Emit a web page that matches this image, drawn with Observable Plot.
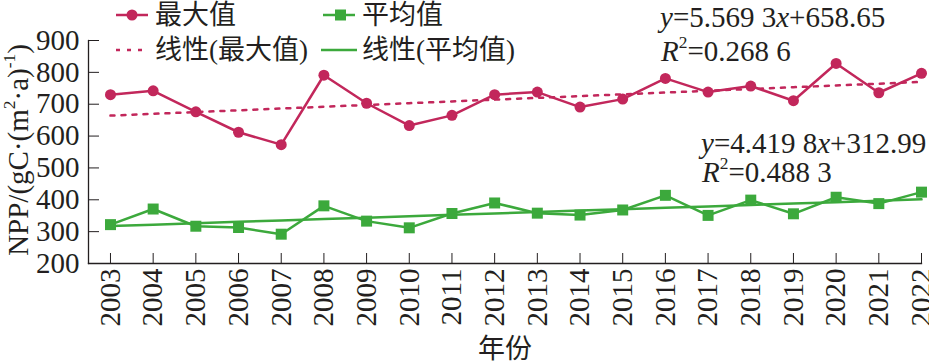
<!DOCTYPE html>
<html><head><meta charset="utf-8">
<script src="https://cdn.jsdelivr.net/npm/d3@7"></script>
<script src="https://cdn.jsdelivr.net/npm/@observablehq/plot@0.6"></script>
<style>
body{margin:0;background:#fff}
#wrap{position:relative;width:929px;height:364px;overflow:hidden;font-family:"Liberation Serif",serif;color:#231f20;background:#fff}
#wrap svg.chart{position:absolute;left:0;top:0}
.ov{position:absolute;white-space:nowrap;line-height:1;font-size:29px}
.cjk{font-family:"Liberation Serif","Noto Sans CJK SC",serif;font-size:27px}
sup{font-size:60%;vertical-align:0.7em;line-height:0}
</style></head><body><div id="wrap"></div>
<script>
// ---- data ----
const years = [2003,2004,2005,2006,2007,2008,2009,2010,2011,2012,2013,2014,2015,2016,2017,2018,2019,2020,2021,2022];
const maxValues  = [730,742,676,612,573,791,703,633,665,730,738,691,716,781,738,757,711,828,736,797];
const meanValues = [322,371,317,313,292,381,333,312,357,390,358,352,368,414,351,399,356,408,388,424];
const yTicks = [200,300,400,500,600,700,800,900];
const seriesNames = ["最大值","平均值","线性(最大值)","线性(平均值)"];
const maxFitCoef  = [5.5693, 658.65];   // y = a*x + b, x = 1..20
const meanFitCoef = [4.4198, 312.99];
const maxFitText  = ["5.569 3", "658.65", "0.268 6"];
const meanFitText = ["4.419 8", "312.99", "0.488 3"];

const red = "#c2275b", green = "#3ca93c", ink = "#231f20";

const maxData  = years.map((y,i)=>({year:y, v:maxValues[i]}));
const meanData = years.map((y,i)=>({year:y, v:meanValues[i]}));
const maxFit  = years.map((y,i)=>({year:y, v:maxFitCoef[0]*(i+1)+maxFitCoef[1]}));
const meanFit = years.map((y,i)=>({year:y, v:meanFitCoef[0]*(i+1)+meanFitCoef[1]}));

const chart = Plot.plot({
  width:929, height:364,
  marginLeft:88, marginRight:8, marginTop:40, marginBottom:101,
  style:{fontFamily:'"Liberation Serif", serif', fontSize:"29px", color:ink, background:"transparent", overflow:"visible"},
  x:{type:"linear", domain:[2002.485, 2022]},
  y:{domain:[200, 900]},
  marks:[
    Plot.frame({anchor:"left", stroke:ink, strokeWidth:1.3}),
    Plot.frame({anchor:"bottom", stroke:ink, strokeWidth:1.3}),
    Plot.axisY({ticks:yTicks, tickSize:0, tickPadding:9, label:null, fontSize:29}),
    Plot.axisY({ticks:yTicks, tickSize:-11, text:null, label:null, stroke:ink}),
    Plot.axisX({ticks:years, tickSize:0, tickPadding:5, tickRotate:-90, tickFormat:d=>String(d), label:null, fontSize:29}),
    Plot.axisX({ticks:years, tickSize:-10, text:null, label:null, stroke:ink}),
    Plot.line(maxFit, {x:"year", y:"v", stroke:red, strokeWidth:2.5, strokeDasharray:"4,7"}),
    Plot.line(meanFit, {x:"year", y:"v", stroke:green, strokeWidth:2.5}),
    Plot.line(maxData, {x:"year", y:"v", stroke:red, strokeWidth:2.5}),
    Plot.dot(maxData, {x:"year", y:"v", fill:red, r:5.5, symbol:"circle"}),
    Plot.line(meanData, {x:"year", y:"v", stroke:green, strokeWidth:2.5}),
    Plot.dot(meanData, {x:"year", y:"v", fill:green, r:6.2, symbol:"square"})
  ]
});
chart.classList.add("chart");
const wrap = document.getElementById("wrap");
wrap.appendChild(chart);

function ov(html, left, cy, cls){
  const d = document.createElement("div");
  d.className = "ov " + (cls||"");
  d.innerHTML = html;
  d.style.left = left + "px";
  d.style.top = cy + "px";
  d.style.transform = "translateY(-50%)";
  wrap.appendChild(d);
  return d;
}
// legend symbols
const ns = "http://www.w3.org/2000/svg";
const lg = document.createElementNS(ns, "svg");
lg.setAttribute("width", 929); lg.setAttribute("height", 70);
lg.style.position = "absolute"; lg.style.left = "0"; lg.style.top = "0";
lg.innerHTML = `
  <line x1="116" x2="148" y1="15" y2="15" stroke="${red}" stroke-width="2.5"/>
  <circle cx="132" cy="15" r="5.5" fill="${red}"/>
  <line x1="323" x2="355" y1="15" y2="15" stroke="${green}" stroke-width="2.5"/>
  <rect x="335" y="9.5" width="11" height="11" fill="${green}"/>
  <line x1="116" x2="146" y1="50" y2="50" stroke="${red}" stroke-width="2.5" stroke-dasharray="4,7"/>
  <line x1="321" x2="357" y1="50" y2="50" stroke="${green}" stroke-width="2.5"/>`;
wrap.appendChild(lg);
ov(seriesNames[0], 155, 15, "cjk");
ov(seriesNames[1], 362, 15, "cjk");
ov(seriesNames[2], 155, 50, "cjk");
ov(seriesNames[3], 362, 50, "cjk");

// equations
ov(`<i>y</i>=${maxFitText[0]}<i>x</i>+${maxFitText[1]}`, 660, 17);
ov(`<i>R</i><sup>2</sup>=${maxFitText[2]}`, 661, 51);
ov(`<i>y</i>=${meanFitText[0]}<i>x</i>+${meanFitText[1]}`, 701, 143);
ov(`<i>R</i><sup>2</sup>=${meanFitText[2]}`, 702, 172);

// axis titles
const xt = ov("年份", 0, 349, "cjk");
xt.style.left = "505px"; xt.style.transform = "translate(-50%,-50%)";
const yt = ov("NPP/(gC·(m<sup>2</sup>·a)<sup>-1</sup>)", 0, 150);
yt.style.left = "18px"; yt.style.transform = "translate(-50%,-50%) rotate(-90deg)";
</script></body></html>
